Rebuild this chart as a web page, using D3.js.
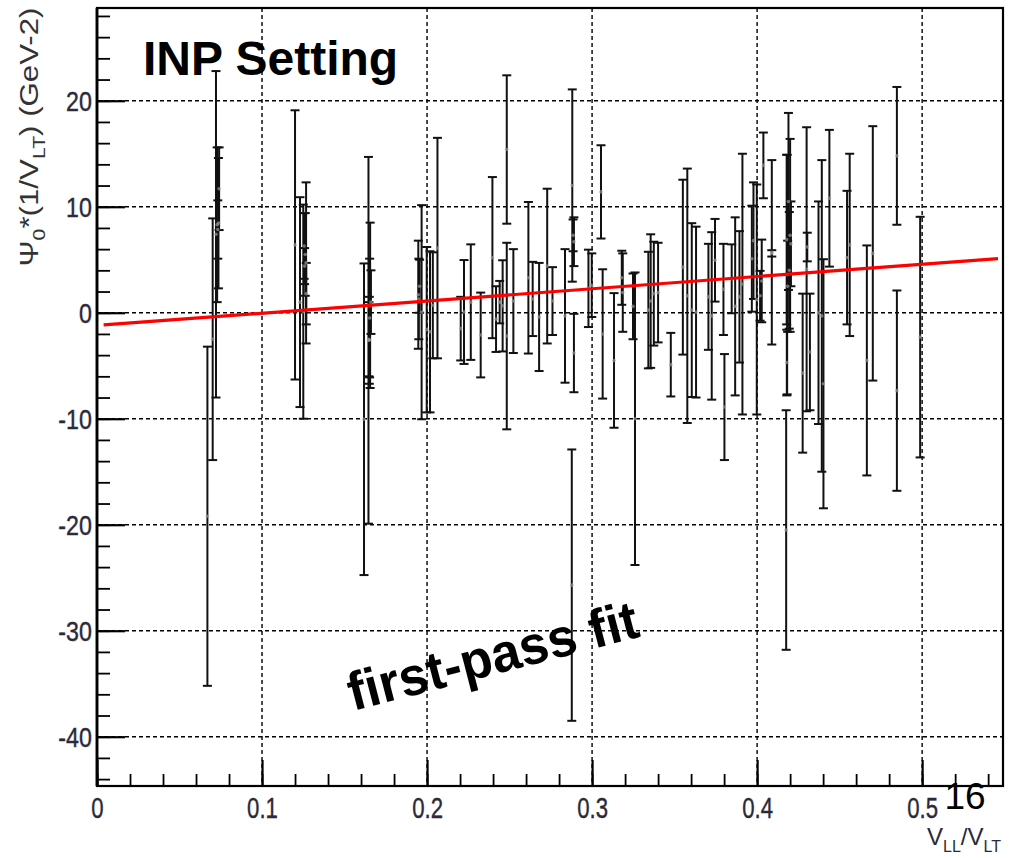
<!DOCTYPE html>
<html>
<head>
<meta charset="utf-8">
<script src="https://cdn.jsdelivr.net/npm/d3@7"></script>
<style>
  body { margin: 0; background: #fff; }
  text { font-family: "Liberation Sans", Arial, sans-serif; }
</style>
</head>
<body>
<svg id="chart" width="1010" height="858"></svg>
<script>
// points: V_LL/V_LT, Psi0*(1/V_LT), error
const xVals = [
  0.0669, 0.0701, 0.0721, 0.0728, 0.0736, 0.0732, 0.0740,
  0.1200, 0.1230, 0.1250, 0.1267, 0.1255, 0.1262, 0.1258, 0.1268,
  0.1618, 0.1645, 0.1655, 0.1652, 0.1660, 0.1648, 0.1650,
  0.1947, 0.1950, 0.1955, 0.1967, 0.1998, 0.2018, 0.2035, 0.2063,
  0.2204, 0.2224, 0.2265, 0.2325, 0.2396, 0.2418, 0.2458, 0.2483, 0.2483, 0.2523, 0.2440,
  0.2614, 0.2640, 0.2679, 0.2728, 0.2760, 0.2836, 0.2880, 0.2890, 0.2877, 0.2890, 0.2885,
  0.2978, 0.2998, 0.3054, 0.3064, 0.3133, 0.3180, 0.3186, 0.3248, 0.3260, 0.3341, 0.3355, 0.3374, 0.3400, 0.3477,
  0.3550, 0.3577, 0.3604, 0.3630, 0.3705, 0.3725, 0.3745, 0.3796, 0.3802, 0.3846, 0.3867, 0.3893, 0.3911,
  0.3968, 0.3978, 0.3998, 0.4018, 0.4038, 0.4028, 0.4089, 0.4089,
  0.4179, 0.4176, 0.4180, 0.4190, 0.4200, 0.4195, 0.4205, 0.4185, 0.4182,
  0.4276, 0.4300, 0.4304, 0.4320, 0.4372, 0.4392, 0.4402, 0.4438, 0.4545, 0.4561,
  0.4665, 0.4701, 0.4847, 0.4847, 0.4988
]
const yVals = [
  -19.2, -2.5, 7.4, 8.3, 8.45, 7.85, 11.7,
  6.4, 1.0, 0.1, 4.7, 6.3, 5.5, 4.4, 1.8,
  -10.05, -2.6, 0.7, -0.5, 1.0, -2.5, -2.6,
  1.7, 1.3, 2.5, 0.05, -1.6, -1.8, 0.7, 6.1,
  -1.5, 0.07, 1.0, -2.1, 5.2, -0.6, 0.65, 15.4, -2.2, 1.1, 1.0,
  3.3, 1.3, -0.4, 4.4, 1.1, -0.3, 12.0, 6.7, -25.7, -3.8, 7.3,
  2.3, 2.6, 11.4, -2.0, -4.5, 3.3, 1.9, 0.6, -10.0, 0.25, 1.1, 1.8, 1.9, -4.9,
  4.3, 1.6, 0.25, 0.06, 1.5, -0.3, 4.95, 2.2, -8.9, 3.2, 0.6, 1.5, 2.7,
  5.1, 6.8, 1.25, 1.6, 13.9, 3.0, 5.7, 5.6,
  6.9, -20.5, -4.7, 10.5, 7.3, 4.0, 6.5, 2.5, 3.6,
  -5.7, 4.1, 6.2, -3.7, 0.0, -0.3, -6.7, 10.8, 5.2, 6.4,
  -4.5, 5.6, 14.8, -7.35, -2.3
]
const yErrs = [
  16.0, 11.4, 15.4, 7.3, 6.15, 2.75, 3.9,
  12.7, 9.9, 10.1, 7.6, 3.1, 3.9, 1.7, 2.9,
  14.7, 17.3, 7.8, 5.6, 3.0, 3.5, 4.1,
  5.1, 3.8, 2.5, 10.1, 7.8, 7.6, 5.0, 10.4,
  3.0, 4.9, 5.45, 4.0, 7.6, 3.1, 4.3, 7.0, 8.8, 4.9, 2.0,
  7.15, 3.5, 5.1, 7.3, 3.2, 6.3, 9.07, 2.3, 12.8, 3.7, 1.5,
  3.65, 3.0, 4.4, 6.1, 6.35, 2.55, 3.7, 3.1, 13.8, 5.5, 6.3, 4.9, 4.7, 3.0,
  8.25, 12.0, 8.2, 8.06, 5.0, 7.9, 3.9, 4.3, 5.0, 3.25, 8.4, 6.2, 12.3,
  5.0, 5.5, 10.85, 2.35, 3.1, 3.9, 8.7, 0.3,
  8.0, 11.3, 3.1, 8.35, 9.1, 5.5, 4.0, 4.3, 11.3,
  7.5, 13.4, 1.35, 5.5, 10.5, 14.7, 11.75, 6.45, 6.3, 8.6,
  10.85, 12.0, 6.5, 9.45, 11.35
]
const xTicks = [0, 0.1, 0.2, 0.3, 0.4, 0.5]
const yTicks = [-40, -30, -20, -10, 0, 10, 20]
// red first-pass fit: y = a + b*x
const fitCoef = [-1.2, 11.54]
const fitRange = [0.004, 0.546]

const padL = 97, padR = 1003, padT = 8, padB = 786

const svg = d3.select("#chart")

const x = d3.scaleLinear().domain([0, 0.549]).range([padL, padR])
const y = d3.scaleLinear().domain([-44.65, 28.75]).range([padB, padT])

const points = xVals.map((v, i) => ({ x: v, y: yVals[i], e: yErrs[i] }))

// grid
const grid = svg.append("g").attr("stroke", "#000").attr("stroke-width", 1.4)
  .attr("stroke-dasharray", "4,3")
grid.selectAll(".gx").data(xTicks.filter(d => d > 0)).enter().append("line")
  .attr("x1", d => x(d)).attr("x2", d => x(d)).attr("y1", padT).attr("y2", padB)
grid.selectAll(".gy").data(yTicks).enter().append("line")
  .attr("x1", padL).attr("x2", padR).attr("y1", d => y(d)).attr("y2", d => y(d))

// error bars
const bars = svg.append("g").attr("stroke", "#111").attr("stroke-width", 2)
const bar = bars.selectAll("g").data(points).enter().append("g")
bar.append("line")
  .attr("x1", d => x(d.x)).attr("x2", d => x(d.x))
  .attr("y1", d => y(d.y + d.e)).attr("y2", d => y(d.y - d.e))
bar.append("line")
  .attr("x1", d => x(d.x) - 4.5).attr("x2", d => x(d.x) + 4.5)
  .attr("y1", d => y(d.y + d.e)).attr("y2", d => y(d.y + d.e))
bar.append("line")
  .attr("x1", d => x(d.x) - 4.5).attr("x2", d => x(d.x) + 4.5)
  .attr("y1", d => y(d.y - d.e)).attr("y2", d => y(d.y - d.e))
svg.append("g").selectAll("circle").data(points).enter().append("circle")
  .attr("cx", d => x(d.x)).attr("cy", d => y(d.y)).attr("r", 1.8)
  .attr("fill", "#999").attr("opacity", 0.7)

// fit line
svg.append("line")
  .attr("x1", x(fitRange[0])).attr("y1", y(fitCoef[0] + fitCoef[1] * fitRange[0]))
  .attr("x2", x(fitRange[1])).attr("y2", y(fitCoef[0] + fitCoef[1] * fitRange[1]))
  .attr("stroke", "#ff0000").attr("stroke-width", 3.2)

// frame
svg.append("rect").attr("x", padL).attr("y", padT)
  .attr("width", padR - padL).attr("height", padB - padT)
  .attr("fill", "none").attr("stroke", "#000").attr("stroke-width", 2.2)
svg.append("line").attr("x1", padL).attr("x2", padL).attr("y1", padT).attr("y2", padB)
  .attr("stroke", "#000").attr("stroke-width", 2.8)

// axes, ticks inside
const yMinor = d3.range(-44, 29, 2)
const xMinor = d3.range(0, 0.55, 0.02)

svg.append("g").attr("transform", `translate(${padL},0)`)
  .call(d3.axisLeft(y).tickValues(yMinor).tickSize(-13).tickSizeOuter(0).tickFormat(""))
  .call(g => g.select(".domain").remove())
  .call(g => g.selectAll("line").attr("stroke-width", 1.8))
svg.append("g").attr("transform", `translate(0,${padB})`)
  .call(d3.axisBottom(x).tickValues(xMinor).tickSize(-12).tickSizeOuter(0).tickFormat(""))
  .call(g => g.select(".domain").remove())
  .call(g => g.selectAll("line").attr("stroke-width", 1.8))

const yAxis = svg.append("g").attr("transform", `translate(${padL},0)`)
  .call(d3.axisLeft(y).tickValues(yTicks).tickSize(-28).tickSizeOuter(0).tickPadding(6)
    .tickFormat(d => String(d)))
yAxis.select(".domain").remove()
yAxis.selectAll("line").attr("stroke-width", 2.2)
yAxis.selectAll("text").attr("font-size", 27).attr("fill", "#2a2a3a")
  .attr("stroke", "#2a2a3a").attr("stroke-width", 0.4)
  .attr("font-family", "Liberation Sans, Arial, sans-serif")
  .attr("dy", "0.36em").attr("transform", "scale(0.86,1)")

const xAxis = svg.append("g").attr("transform", `translate(0,${padB})`)
  .call(d3.axisBottom(x).tickValues(xTicks).tickSize(-26).tickSizeOuter(0)
    .tickFormat(d => d === 0 ? "0" : d3.format(".1f")(d)))
xAxis.select(".domain").remove()
xAxis.selectAll("line").attr("stroke-width", 2.2)
xAxis.selectAll("text").attr("font-size", 30).attr("fill", "#2a2a3a")
  .attr("stroke", "#2a2a3a").attr("stroke-width", 0.4)
  .attr("font-family", "Liberation Sans, Arial, sans-serif")
  .attr("y", 32).attr("dy", 0).attr("transform", "scale(0.74,1)")

// titles
const yTitle = svg.append("text")
  .attr("transform", "translate(38,137) rotate(-90)")
  .attr("text-anchor", "middle").attr("font-size", 25).attr("fill", "#333")
  .attr("textLength", 259).attr("lengthAdjust", "spacingAndGlyphs")
yTitle.append("tspan").text("\u03A8")
yTitle.append("tspan").attr("font-size", 17).attr("dy", 7).text("0")
yTitle.append("tspan").attr("dy", -7).text("*(1/V")
yTitle.append("tspan").attr("font-size", 17).attr("dy", 7).text("LT")
yTitle.append("tspan").attr("dy", -7).text(") (GeV-2)")

const xTitle = svg.append("text")
  .attr("x", 1001).attr("y", 845).attr("text-anchor", "end")
  .attr("font-size", 24).attr("fill", "#2a2a3a")
  .attr("textLength", 74).attr("lengthAdjust", "spacingAndGlyphs")
xTitle.append("tspan").text("V")
xTitle.append("tspan").attr("font-size", 16).attr("dy", 7).text("LL")
xTitle.append("tspan").attr("dy", -7).text("/V")
xTitle.append("tspan").attr("font-size", 16).attr("dy", 7).text("LT")

svg.append("text").attr("x", 143).attr("y", 75)
  .attr("font-size", 48).attr("font-weight", "bold").attr("fill", "#000")
  .text("INP Setting")

svg.append("text")
  .attr("transform", "translate(353,711) rotate(-14.5)")
  .attr("font-size", 54).attr("font-weight", "bold").attr("fill", "#000")
  .attr("textLength", 298).attr("lengthAdjust", "spacingAndGlyphs")
  .text("first-pass fit")

svg.append("text").attr("x", 965).attr("y", 809).attr("text-anchor", "middle")
  .attr("font-size", 37).attr("fill", "#000").text("16")
</script>
</body>
</html>
